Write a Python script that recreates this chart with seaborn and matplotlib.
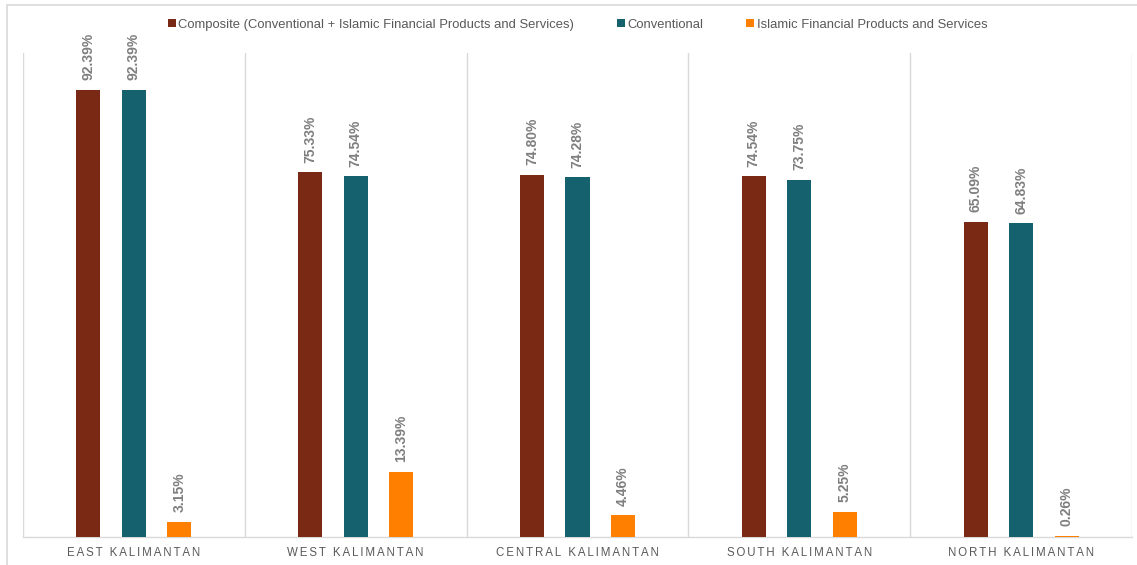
import matplotlib
matplotlib.use("Agg")
import matplotlib.pyplot as plt
from matplotlib.patches import Patch, Rectangle
import seaborn as sns
import pandas as pd

# Financial inclusion index by province (percent)
regions = ["EAST KALIMANTAN", "WEST KALIMANTAN", "CENTRAL KALIMANTAN",
           "SOUTH KALIMANTAN", "NORTH KALIMANTAN"]
series = ["Composite (Conventional + Islamic Financial Products and Services)",
          "Conventional",
          "Islamic Financial Products and Services"]
composite = [92.39, 75.33, 74.80, 74.54, 65.09]
conventional = [92.39, 74.54, 74.28, 73.75, 64.83]
islamic = [3.15, 13.39, 4.46, 5.25, 0.26]
colors = ["#7A2914", "#15616D", "#FF7F00"]

rows = []
for s, vals in zip(series, [composite, conventional, islamic]):
    for r, v in zip(regions, vals):
        rows.append({"region": r, "series": s, "value": v})
df = pd.DataFrame(rows)

sns.set_style("white")
plt.rcParams["font.family"] = ["Liberation Sans", "DejaVu Sans"]

fig = plt.figure(figsize=(11.37, 5.65), dpi=100)
ax = fig.add_axes([23 / 1137, 28 / 565, (1132 - 23) / 1137, (537 - 53) / 565])

sns.barplot(data=df, x="region", y="value", hue="series", order=regions,
            hue_order=series, palette=colors, width=0.615, gap=0.47,
            errorbar=None, ax=ax, legend=False, saturation=1,
            linewidth=0)

for cont in ax.containers:
    ax.bar_label(cont, labels=[f"{v:.2f}%" for v in cont.datavalues],
                 rotation=90, padding=7, fontsize=10, fontweight="bold",
                 color="#7F7F7F")

ax.set_ylim(0, 100)
ax.set_xlim(-0.5, len(regions) - 0.5)
ax.set_yticks([])
ax.set_xlabel("")
ax.set_ylabel("")

# category separators
for b in range(len(regions) + 1):
    ax.axvline(b - 0.5, color="#D9D9D9", lw=1.0, zorder=0)

for side in ["left", "right", "top"]:
    ax.spines[side].set_visible(False)
ax.spines["bottom"].set_color("#D9D9D9")
ax.spines["bottom"].set_linewidth(1.0)
ax.spines["bottom"].set_zorder(0.5)

# letter-spaced category names
spaced = ["\u2006".join(list(r)) for r in regions]
ax.set_xticks(range(len(regions)))
ax.set_xticklabels(spaced, fontsize=8.3, color="#595959")
ax.tick_params(axis="x", length=0, pad=7)

handles = [Patch(facecolor=c, edgecolor="none") for c in colors]
leg = ax.legend(handles, series, loc="center", bbox_to_anchor=(0.5, 1.058),
                ncol=3, frameon=False, fontsize=9.35, handlelength=0.6,
                handleheight=0.6, handletextpad=0.2, columnspacing=3.3,
                labelcolor="#595959")

# outer chart frame
fig.patches.append(Rectangle((7 / 1137, -0.01), 1.02, (565 - 5) / 565 + 0.01,
                             transform=fig.transFigure, fill=False,
                             edgecolor="#D9D9D9", lw=1.2))

fig.savefig("out.png", dpi=100, facecolor="white")
